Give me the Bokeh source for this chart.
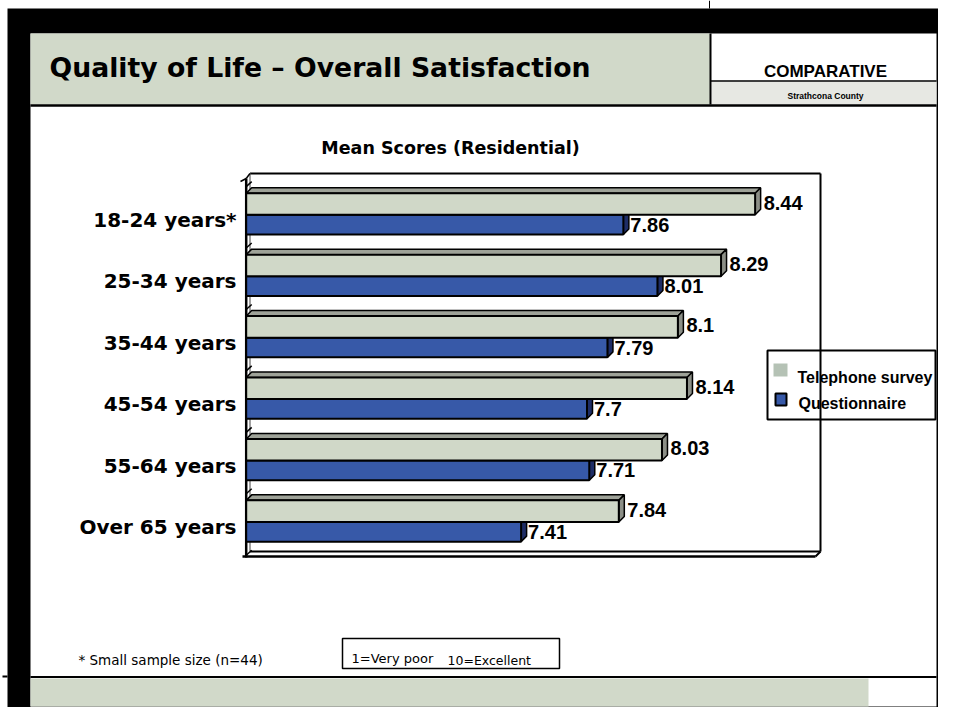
import numpy as np
from bokeh.plotting import figure
from bokeh.models import Range1d
from bokeh.embed import file_html
from bokeh.resources import INLINE
from bokeh.core.properties import value

# ---------------- data ----------------
categories = ["18-24 years*", "25-34 years", "35-44 years",
              "45-54 years", "55-64 years", "Over 65 years"]
telephone = [8.44, 8.29, 8.10, 8.14, 8.03, 7.84]
questionnaire = [7.86, 8.01, 7.79, 7.70, 7.71, 7.41]
series_names = ["Telephone survey", "Questionnaire"]
title_text = "Quality of Life \u2013 Overall Satisfaction"
badge_text = "COMPARATIVE"
sub_badge_text = "Strathcona County"
chart_title = "Mean Scores (Residential)"
footnote = "* Small sample size (n=44)"
scale_low = "1=Very poor"
scale_high = "10=Excellent"
axis_min, axis_max = 6.2, 8.7

# ---------------- style / geometry ----------------
W, H = 938, 707
PX_PER_UNIT = 227.2
X0_PX = 245.7
BAND = 61.43
C0_PX = 213.35
DEPTH = 5.5
ARIAL = value("Liberation Sans")
WIDE = value("DejaVu Sans")
GREEN = "#D1D9C9"
TEL = "#D0D8C8"
TEL_TOP = "#9EA298"
TEL_SIDE = "#8C8F87"
BLUE = "#3759A8"
BLUE_SIDE = "#1E2D66"
SWATCH_TEL = "#B5C2B5"

v0 = axis_min - X0_PX / PX_PER_UNIT
v1 = v0 + W / PX_PER_UNIT
i_top = -C0_PX / BAND
i_bot = i_top + H / BAND

p = figure(width=W, height=H, x_range=Range1d(0, W), y_range=Range1d(H, 0),
           output_backend="svg", toolbar_location=None, min_border=0,
           x_axis_location=None, y_axis_location=None, title=None,
           background_fill_color="white", border_fill_color="white",
           outline_line_color=None)
p.grid.visible = False
p.extra_x_ranges = {"val": Range1d(v0, v1)}
p.extra_y_ranges = {"idx": Range1d(i_bot, i_top)}


def box(x0, y0, x1, y1, fill, line=None, lw=1):
    p.quad(left=x0, right=x1, top=y0, bottom=y1,
           fill_color=fill, line_color=line, line_width=lw)


def seg(x0, y0, x1, y1, color="black", lw=2):
    p.segment(x0=x0, y0=y0, x1=x1, y1=y1, line_color=color, line_width=lw)


def txt(x, y, s, size, font=ARIAL, bold=True, align="left", baseline="alphabetic"):
    p.text(x=[x], y=[y], text=[s], text_font=font,
           text_font_size=size, text_font_style="bold" if bold else "normal",
           text_align=align, text_baseline=baseline, text_color="black")


# black slide frame and white body
box(7, 8, W, H, "black")
box(30, 33, 936, 706, "white")
seg(709, 0, 709, 8, lw=1)
seg(2, 676, 7, 676, lw=2)
# header
box(30, 33, 710, 104, GREEN)
box(711, 81, 936, 104, "#E7E8E3")
seg(710, 33, 710, 104, lw=2)
seg(710, 80.5, 936, 80.5, lw=1.5)
seg(30, 105, 936, 105, lw=2.5)
txt(49, 67, title_text, "26.7px", font=WIDE)
txt(825, 70.5, badge_text, "17px", align="center")
txt(825, 95.5, sub_badge_text, "8.5px", align="center")
# footer
seg(30, 676.5, 936, 676.5, lw=2)
box(30, 678, 868, 706, GREEN)
txt(78, 659, footnote, "13.5px", font=WIDE, bold=False)
box(342, 638, 559, 668, "white", "black", 1.5)
txt(351, 658, scale_low, "13px", font=WIDE, bold=False)
txt(447, 659.5, scale_high, "12.5px", font=WIDE, bold=False)

# chart title
txt(450, 147.5, chart_title, "17.5px", font=WIDE, align="center")

# ---------------- 3D plot box ----------------
seg(249.5, 173, 820, 173, lw=2)
seg(249.5, 173, 249.5, 551, color="#808080", lw=1.5)
seg(245.7, 178, 245.7, 557, lw=2.5)
seg(245.7, 178, 249.5, 173, lw=1.5)
seg(240, 181, 245.7, 178, lw=1.5)
seg(249.5, 551, 820, 551, lw=2)
seg(242, 556, 815, 556, lw=2.5)
seg(815, 556, 820, 551, lw=2)

idx = np.arange(len(categories))
dxv = DEPTH / PX_PER_UNIT
dyv = DEPTH / BAND
kb = np.arange(len(categories) + 1) - 0.5 + 1.0 / BAND
p.segment(x0=axis_min, y0=kb + 2.5 / BAND, x1=axis_min + dxv, y1=kb - 2.5 / BAND,
          line_color="black", line_width=1.5, x_range_name="val", y_range_name="idx")

# bars
OFF_T, H_T = -9.85 / BAND, 21.6 / BAND
OFF_Q, H_Q = 10.8 / BAND, 19.7 / BAND
tel = np.array(telephone)
que = np.array(questionnaire)


def faces(vals, off, h, top_color, side_color):
    yc = idx + off
    top = yc - h / 2
    bot = yc + h / 2
    xs_top = [[axis_min, v, v + dxv, axis_min + dxv] for v in vals]
    ys_top = [[t, t, t - dyv, t - dyv] for t in top]
    xs_side = [[v, v + dxv, v + dxv, v] for v in vals]
    ys_side = [[t, t - dyv, b - dyv, b] for t, b in zip(top, bot)]
    p.patches(xs=xs_top, ys=ys_top, fill_color=top_color, line_color="black",
              line_width=1.5, x_range_name="val", y_range_name="idx")
    p.patches(xs=xs_side, ys=ys_side, fill_color=side_color, line_color="black",
              line_width=1.5, x_range_name="val", y_range_name="idx")


faces(que, OFF_Q, H_Q, BLUE_SIDE, BLUE_SIDE)
p.hbar(y=idx + OFF_Q, left=axis_min, right=que, height=H_Q, fill_color=BLUE,
       line_color="black", line_width=2, x_range_name="val", y_range_name="idx")
faces(tel, OFF_T, H_T, TEL_TOP, TEL_SIDE)
p.hbar(y=idx + OFF_T, left=axis_min, right=tel, height=H_T, fill_color=TEL,
       line_color="black", line_width=2, x_range_name="val", y_range_name="idx")

# value labels
p.text(x=tel, y=idx + OFF_T, text=[f"{v:g}" for v in telephone], x_offset=DEPTH + 3,
       y_offset=-1.5, text_font=ARIAL, text_font_size="20px", text_font_style="bold",
       text_baseline="middle", x_range_name="val", y_range_name="idx")
p.text(x=que, y=idx + OFF_Q, text=[f"{v:g}" for v in questionnaire], x_offset=DEPTH + 1.5,
       y_offset=0, text_font=ARIAL, text_font_size="20px", text_font_style="bold",
       text_baseline="middle", x_range_name="val", y_range_name="idx")

# category labels
p.text(x=[axis_min] * len(categories), y=idx, text=categories, x_offset=-9.7, y_offset=6,
       text_font=WIDE, text_font_size="20px", text_font_style="bold",
       text_align="right", text_baseline="alphabetic",
       x_range_name="val", y_range_name="idx")

# legend
box(767, 350, 935, 419, "white", "black", 2)
box(773, 363, 787, 376, SWATCH_TEL)
box(775, 393, 786, 405, BLUE, "black", 2)
txt(797, 376.7, series_names[0], "16px")
txt(798, 403.3, series_names[1], "16px")

# back wall right edge drawn over legend (as in original)
seg(820, 173, 820, 551, lw=2)

open("out.html", "w").write(file_html(p, INLINE))
